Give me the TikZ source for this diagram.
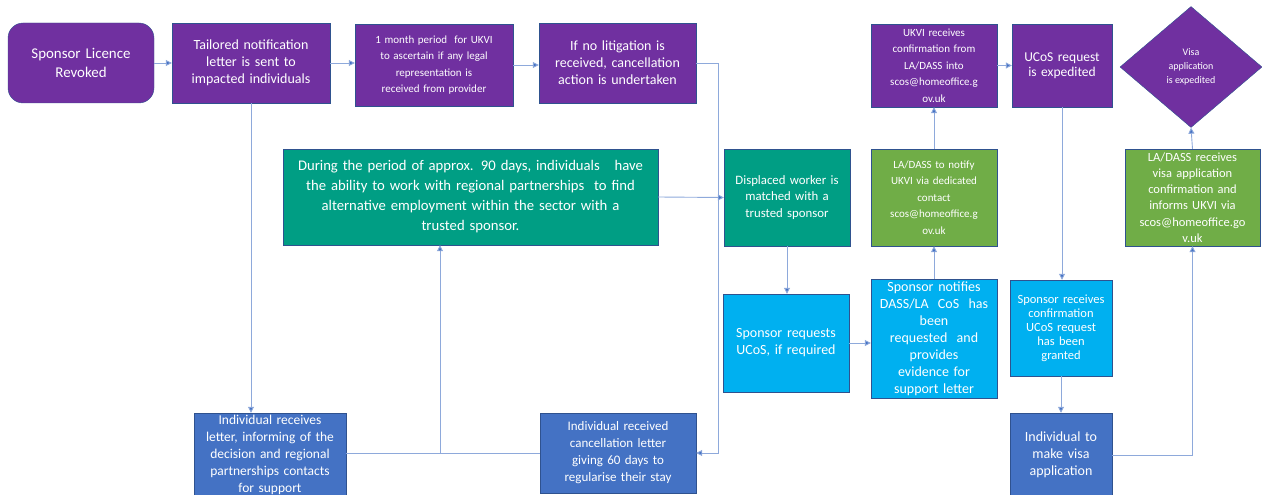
\documentclass[tikz,border=0pt]{standalone}
\usepackage{fontspec}
\setmainfont{Carlito}
\usetikzlibrary{shapes.geometric}
\usetikzlibrary{arrows.meta}
\definecolor{flowpurple}{HTML}{7030A0}
\definecolor{flowteal}{HTML}{009E84}
\definecolor{flowgreen}{HTML}{70AD47}
\definecolor{flowcyan}{HTML}{00B0F0}
\definecolor{flowblue}{HTML}{4472C4}
\definecolor{boxedge}{HTML}{2F528F}
\definecolor{linkblue}{HTML}{8EA9DB}
\tikzset{   box/.style = {rectangle, draw = boxedge, thin, text = white, align = center, inner sep = 1pt},
            purplebox/.style = {box, fill = flowpurple},
            tealbox/.style = {box, fill = flowteal},
            greenbox/.style = {box, fill = flowgreen},
            cyanbox/.style = {box, fill = flowcyan},
            bluebox/.style = {box, fill = flowblue},
            txt/.style = {font = \fontsize{14}{17}\selectfont},
            small/.style = {font = \fontsize{11}{16.5}\selectfont},
            link/.style = {draw = linkblue, line width = 0.9pt, -{Triangle[width=6pt,length=6pt,fill=flowblue]}},
            plain/.style = {draw = linkblue, line width = 0.9pt}}

\begin{document}
\begin{tikzpicture}[x=1pt, y=-1pt]
\useasboundingbox (0,0) rectangle (1262,495);
% top row
\node[purplebox, rounded corners = 15pt, minimum width = 146pt, minimum height = 80pt, text width = 135pt, font = \fontsize{14.9}{19}\selectfont] (revoked) at (81,63) {Sponsor Licence\\Revoked};
\node[purplebox, txt, minimum width = 158pt, minimum height = 80pt, text width = 152pt] (tailored) at (251,63) {Tailored notification\\letter is sent to\\impacted individuals};
\node[purplebox, small, minimum width = 158pt, minimum height = 82pt, text width = 150pt] (month) at (434,65) {1 month period \ for UKVI\\to ascertain if any legal\\representation is\\received from provider};
\node[purplebox, txt, minimum width = 157pt, minimum height = 80pt, text width = 152pt] (litigation) at (617.5,63) {If no litigation is\\received, cancellation\\action is undertaken};
\node[purplebox, small, minimum width = 126pt, minimum height = 83pt, text width = 120pt] (ukvi) at (934,65.5) {UKVI receives\\confirmation from\\LA/DASS into\\scos@homeoffice.g\\ov.uk};
\node[purplebox, minimum width = 100pt, minimum height = 83pt, text width = 94pt, font = \fontsize{13.5}{15}\selectfont] (expedited) at (1062,65.5) {UCoS request\\is expedited\\[14pt]};
\node[purplebox, diamond, minimum width = 142pt, minimum height = 121pt, inner sep = 0pt, font = \fontsize{10}{14}\selectfont] (visa) at (1191,67) {Visa\\application\\is expedited};
% middle row
\node[tealbox, minimum width = 375pt, minimum height = 96pt, text width = 368pt, font = \fontsize{14.7}{20}\selectfont] (period) at (470.5,197) {During the period of approx. 90 days, individuals \ \ have\\the ability to work with regional partnerships \ to find\\alternative employment within the sector with a\\trusted sponsor.};
\node[tealbox, minimum width = 126pt, minimum height = 97pt, text width = 120pt, font = \fontsize{12.8}{16.5}\selectfont] (matched) at (787,197.5) {Displaced worker is\\matched with a\\trusted sponsor\\[12pt]};
\node[greenbox, small, minimum width = 126pt, minimum height = 97pt, text width = 120pt] (notify) at (934,197.5) {LA/DASS to notify\\UKVI via dedicated\\contact\\scos@homeoffice.g\\ov.uk};
\node[greenbox, minimum width = 135pt, minimum height = 97pt, text width = 130pt, font = \fontsize{12.5}{16.2}\selectfont] (lareceives) at (1192.5,197.5) {LA/DASS receives\\visa application\\confirmation and\\informs UKVI via\\scos@homeoffice.go\\v.uk};
% lower row
\node[cyanbox, txt, minimum width = 126pt, minimum height = 98pt, text width = 122pt] (requests) at (786,343) {Sponsor requests\\UCoS, if required};
\node[cyanbox, txt, minimum width = 126pt, minimum height = 119pt, text width = 122pt] (notifies) at (934,338.5) {Sponsor notifies\\DASS/LA \ CoS \ has\\been\\requested \ and\\provides\\evidence for\\support letter};
\node[cyanbox, minimum width = 102pt, minimum height = 96pt, text width = 98pt, font = \fontsize{12.5}{14}\selectfont] (granted) at (1061,328) {Sponsor receives\\confirmation\\UCoS request\\has been\\granted};
% bottom row
\node[bluebox, minimum width = 152pt, minimum height = 84pt, text width = 148pt, font = \fontsize{13.5}{17}\selectfont] (letter) at (270,455) {Individual receives\\letter, informing of the\\decision and regional\\partnerships contacts\\for support};
\node[bluebox, minimum width = 156pt, minimum height = 80pt, text width = 150pt, font = \fontsize{13}{17}\selectfont] (cancel) at (618,453) {Individual received\\cancellation letter\\giving 60 days to\\regularise their stay};
\node[bluebox, txt, minimum width = 102pt, minimum height = 84pt, text width = 98pt] (makevisa) at (1061,455) {Individual to\\make visa\\application};
% connectors
\draw[link] (revoked) -- (tailored);
\draw[link] (tailored) -- (tailored -| month.west);
\draw[link] (month) -- (month -| litigation.west);
\draw[link] (litigation.east) -- ++(22,0) |- (cancel.east);
\draw[link] (tailored.south) -- (tailored.south |- letter.north);
\draw[plain] (letter.east |- cancel) -- (cancel.west);
\coordinate (join) at (440,453);
\draw[link] (join) -- (join |- period.south);
\draw[link] (period.east) -- (matched.west);
\draw[link] (matched.south) -- (matched.south |- requests.north);
\draw[link] (requests.east) -- (requests.east -| notifies.west);
\draw[link] (notifies.north) -- (notify.south);
\draw[link] (notify.north) -- (ukvi.south);
\draw[link] (ukvi.east) -- (ukvi.east -| expedited.west);
\draw[link] (expedited.south) -- (expedited.south |- granted.north);
\draw[link] (granted.south) -- (granted.south |- makevisa.north);
\draw[link] (makevisa.east) -| (lareceives.south);
\draw[link] (lareceives.north) -- (visa.south);
\end{tikzpicture}
\end{document}
